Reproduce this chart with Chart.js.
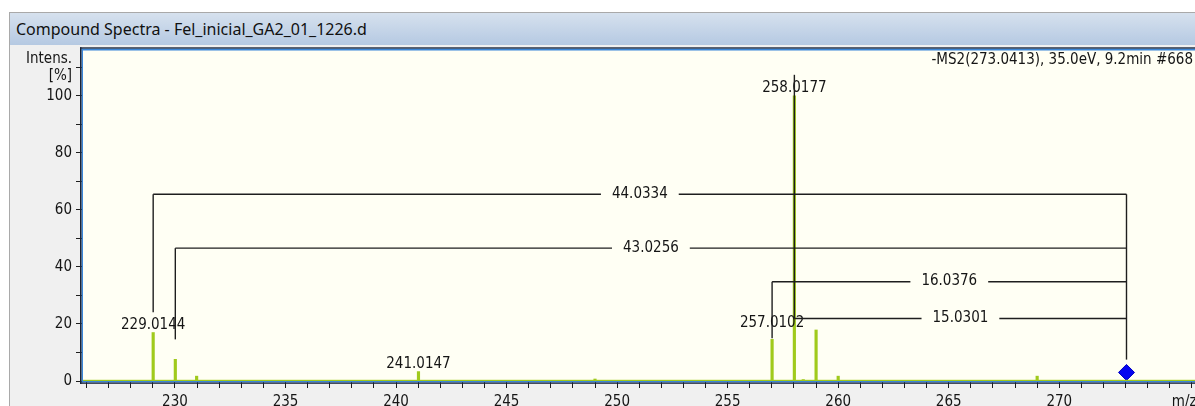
<!DOCTYPE html>
<html>
<head>
<meta charset="utf-8">
<script src="https://cdn.jsdelivr.net/npm/chart.js@4.4.1/dist/chart.umd.min.js"></script>
<style>
  html, body { margin: 0; padding: 0; background: #ffffff; overflow: hidden; }
  #wrap { position: relative; width: 1195px; height: 406px; }
  #c { position: absolute; left: 0; top: 0; }
  #titlebar {
    position: absolute; left: 10px; top: 13px; width: 1185px; height: 32px;
    background: linear-gradient(#D6E1EE, #B5C9E2);
    font-family: 'Noto Sans', 'Open Sans', sans-serif;
    font-size: 16px; line-height: 32px; color: #111111;
    padding-left: 6px; box-sizing: border-box; white-space: nowrap; overflow: hidden;
  }
</style>
</head>
<body>
<div id="wrap">
  <canvas id="c" width="1195" height="406"></canvas>
  <div id="titlebar">Compound Spectra - Fel_inicial_GA2_01_1226.d</div>
</div>
<script>
// ---------------- data ----------------
const peakMz  = [229.0144, 230.0157, 230.98, 241.0147, 249.0, 257.0102, 258.0177, 258.42, 259.0, 260.0, 269.0];
const peakInt = [17.0,     7.6,      1.7,    3.3,      0.7,   14.6,     100.0,    0.5,    17.9,  1.7,   1.7];

const labelText = ['229.0144', '241.0147', '257.0102', '258.0177'];
const labelMz   = [229.0144, 241.0147, 257.0102, 258.0177];
const labelInt  = [17.0, 3.3, 14.6, 100.0];

const precursorMz  = 273.0413;
const precursorInt = 3.0;

const deltaText    = ['44.0334', '43.0256', '16.0376', '15.0301'];
const deltaFromMz  = [229.0144, 230.0157, 257.0102, 258.0177];
const deltaLevel   = [65.5, 46.6, 34.8, 21.9];
const deltaLegEnd  = [24.1, 14.6, 15.0, 107.4];
const precursorLegEnd = 7.5;

const headerText = '-MS2(273.0413), 35.0eV, 9.2min #668';
const xAxisUnit  = 'm/z';
const yAxisTitle = ['Intens.', '[%]'];

const xMajorTicks = [230, 235, 240, 245, 250, 255, 260, 265, 270];
const yMajorTicks = [0, 20, 40, 60, 80, 100];
const X_MIN = 225.84, X_MAX = 276.14, Y_MIN = 0, Y_MAX = 116.1;

// ---------------- style ----------------
const FONT = "'DejaVu Sans Condensed', 'Liberation Sans', Arial, sans-serif";
const TXT = '#151515';
const LINE = '#1e1e1e';
const GREEN = '#A0CA1C';
const X_TICK_LEN = 7, X_TICK_PAD = 5, X_LINE_H = 18;

const xTickVals = [];
for (let v = Math.ceil(X_MIN); v <= Math.floor(X_MAX); v++) xTickVals.push(v);
const yTickVals = [];
for (let v = 0; v <= 110; v += 10) yTickVals.push(v);

const spectraPlugin = {
  id: 'spectra',
  beforeDraw(chart) {
    const { ctx, chartArea: a, width, height } = chart;
    ctx.save();
    ctx.fillStyle = '#ffffff'; ctx.fillRect(0, 0, width, height);
    ctx.fillStyle = '#F0F0F0'; ctx.fillRect(10, 13, width - 10, height - 13);
    ctx.fillStyle = '#A9A9A9';
    ctx.fillRect(9, 12, 1, height - 12);
    ctx.fillRect(9, 12, width - 9, 1);
    ctx.fillStyle = '#FFFFF4';
    ctx.fillRect(a.left, a.top, width - a.left, a.bottom - a.top);
    ctx.restore();
  },
  afterDatasetsDraw(chart) {
    const { ctx, chartArea: a, width } = chart;
    const xs = chart.scales.x, ys = chart.scales.y;
    const px = v => xs.getPixelForValue(v);
    const py = v => ys.getPixelForValue(v);
    ctx.save();
    ctx.font = '15px ' + FONT;
    ctx.fillStyle = TXT;
    ctx.strokeStyle = LINE;
    ctx.lineWidth = 1.4;
    const line = (x1, y1, x2, y2) => { ctx.beginPath(); ctx.moveTo(x1, y1); ctx.lineTo(x2, y2); ctx.stroke(); };

    // peak labels
    ctx.textAlign = 'center'; ctx.textBaseline = 'alphabetic';
    const lift = { '257.0102': 9 };
    labelText.forEach((t, i) => {
      ctx.fillText(t, px(labelMz[i]), py(labelInt[i]) - 3.5 - (lift[t] || 0));
    });

    // delta annotations
    const xr = px(precursorMz);
    deltaText.forEach((t, i) => {
      const x0 = px(deltaFromMz[i]);
      const y = py(deltaLevel[i]);
      const yl = py(deltaLegEnd[i]);
      const mid = (x0 + xr) / 2;
      const gap = ctx.measureText(t).width / 2 + 11;
      line(x0, yl, x0, y);
      line(x0, y, mid - gap, y);
      line(mid + gap, y, xr, y);
      ctx.fillText(t, mid, y + 3.5);
    });
    line(xr, py(Math.max(...deltaLevel)), xr, py(precursorLegEnd));

    // header text
    ctx.textAlign = 'right';
    ctx.fillText(headerText, 1193, 64);

    // unit label on x axis
    ctx.textAlign = 'left'; ctx.textBaseline = 'middle';
    ctx.fillText(xAxisUnit, px(275) + 2, a.bottom + X_TICK_LEN + X_TICK_PAD + X_LINE_H / 2);

    // frame
    ctx.fillStyle = GREEN;
    ctx.fillRect(a.left, a.bottom - 1.2, width - a.left, 1.2);
    ctx.fillStyle = '#3A86D8';
    ctx.fillRect(81.5, 48.5, width - 81.5, 2);
    ctx.fillRect(81.5, 48.5, 1.5, a.bottom - 48.5 + 1.5);
    ctx.fillRect(81.5, a.bottom, width - 81.5, 1.5);
    ctx.fillStyle = '#1A2438';
    ctx.fillRect(80, 47.3, width - 80, 1.3);
    ctx.fillRect(80, 47.3, 1.5, a.bottom - 47.3 + 3);
    ctx.fillRect(80, a.bottom + 1.5, width - 80, 1.3);
    ctx.restore();
  }
};

new Chart(document.getElementById('c'), {
  type: 'bar',
  data: {
    datasets: [
      {
        type: 'bar',
        data: peakMz.map((m, i) => ({ x: m, y: peakInt[i] })),
        backgroundColor: GREEN,
        borderWidth: 0,
        barThickness: 2.5,
        order: 2
      },
      {
        type: 'scatter',
        data: [{ x: precursorMz, y: precursorInt }],
        pointStyle: 'rectRot',
        pointRadius: 8,
        backgroundColor: '#0505F0',
        borderColor: '#0000C0',
        borderWidth: 1,
        order: 1
      }
    ]
  },
  options: {
    responsive: false,
    animation: false,
    devicePixelRatio: 1,
    events: [],
    layout: { autoPadding: false, padding: { top: 50, left: 0, right: 0, bottom: 0 } },
    plugins: { legend: { display: false }, tooltip: { enabled: false }, title: { display: false } },
    scales: {
      x: {
        type: 'linear', min: X_MIN, max: X_MAX, bounds: 'data', offset: false,
        afterFit: s => { s.height = 25; s.paddingLeft = 0; s.paddingRight = 0; },
        afterBuildTicks: s => { s.ticks = xTickVals.map(v => ({ value: v })); },
        border: { display: false },
        grid: { drawOnChartArea: false, drawTicks: true, tickLength: X_TICK_LEN, color: LINE, offset: false },
        ticks: {
          autoSkip: false, maxRotation: 0, minRotation: 0, padding: X_TICK_PAD, color: TXT,
          font: { family: FONT, size: 15, lineHeight: X_LINE_H / 15 },
          callback: v => xMajorTicks.includes(v) ? String(v) : ''
        }
      },
      y: {
        type: 'linear', min: Y_MIN, max: Y_MAX, bounds: 'data',
        afterFit: s => { s.width = 83; s.paddingTop = 0; s.paddingBottom = 0; },
        afterBuildTicks: s => { s.ticks = yTickVals.map(v => ({ value: v })); },
        border: { display: false },
        grid: { drawOnChartArea: false, drawTicks: true, tickLength: 7, color: LINE },
        ticks: {
          autoSkip: false, padding: 4, color: TXT,
          font: { family: FONT, size: 15, lineHeight: 1.1 },
          callback: v => v === 110 ? yAxisTitle : (yMajorTicks.includes(v) ? String(v) : '')
        }
      }
    }
  },
  plugins: [spectraPlugin]
});
</script>
</body>
</html>
